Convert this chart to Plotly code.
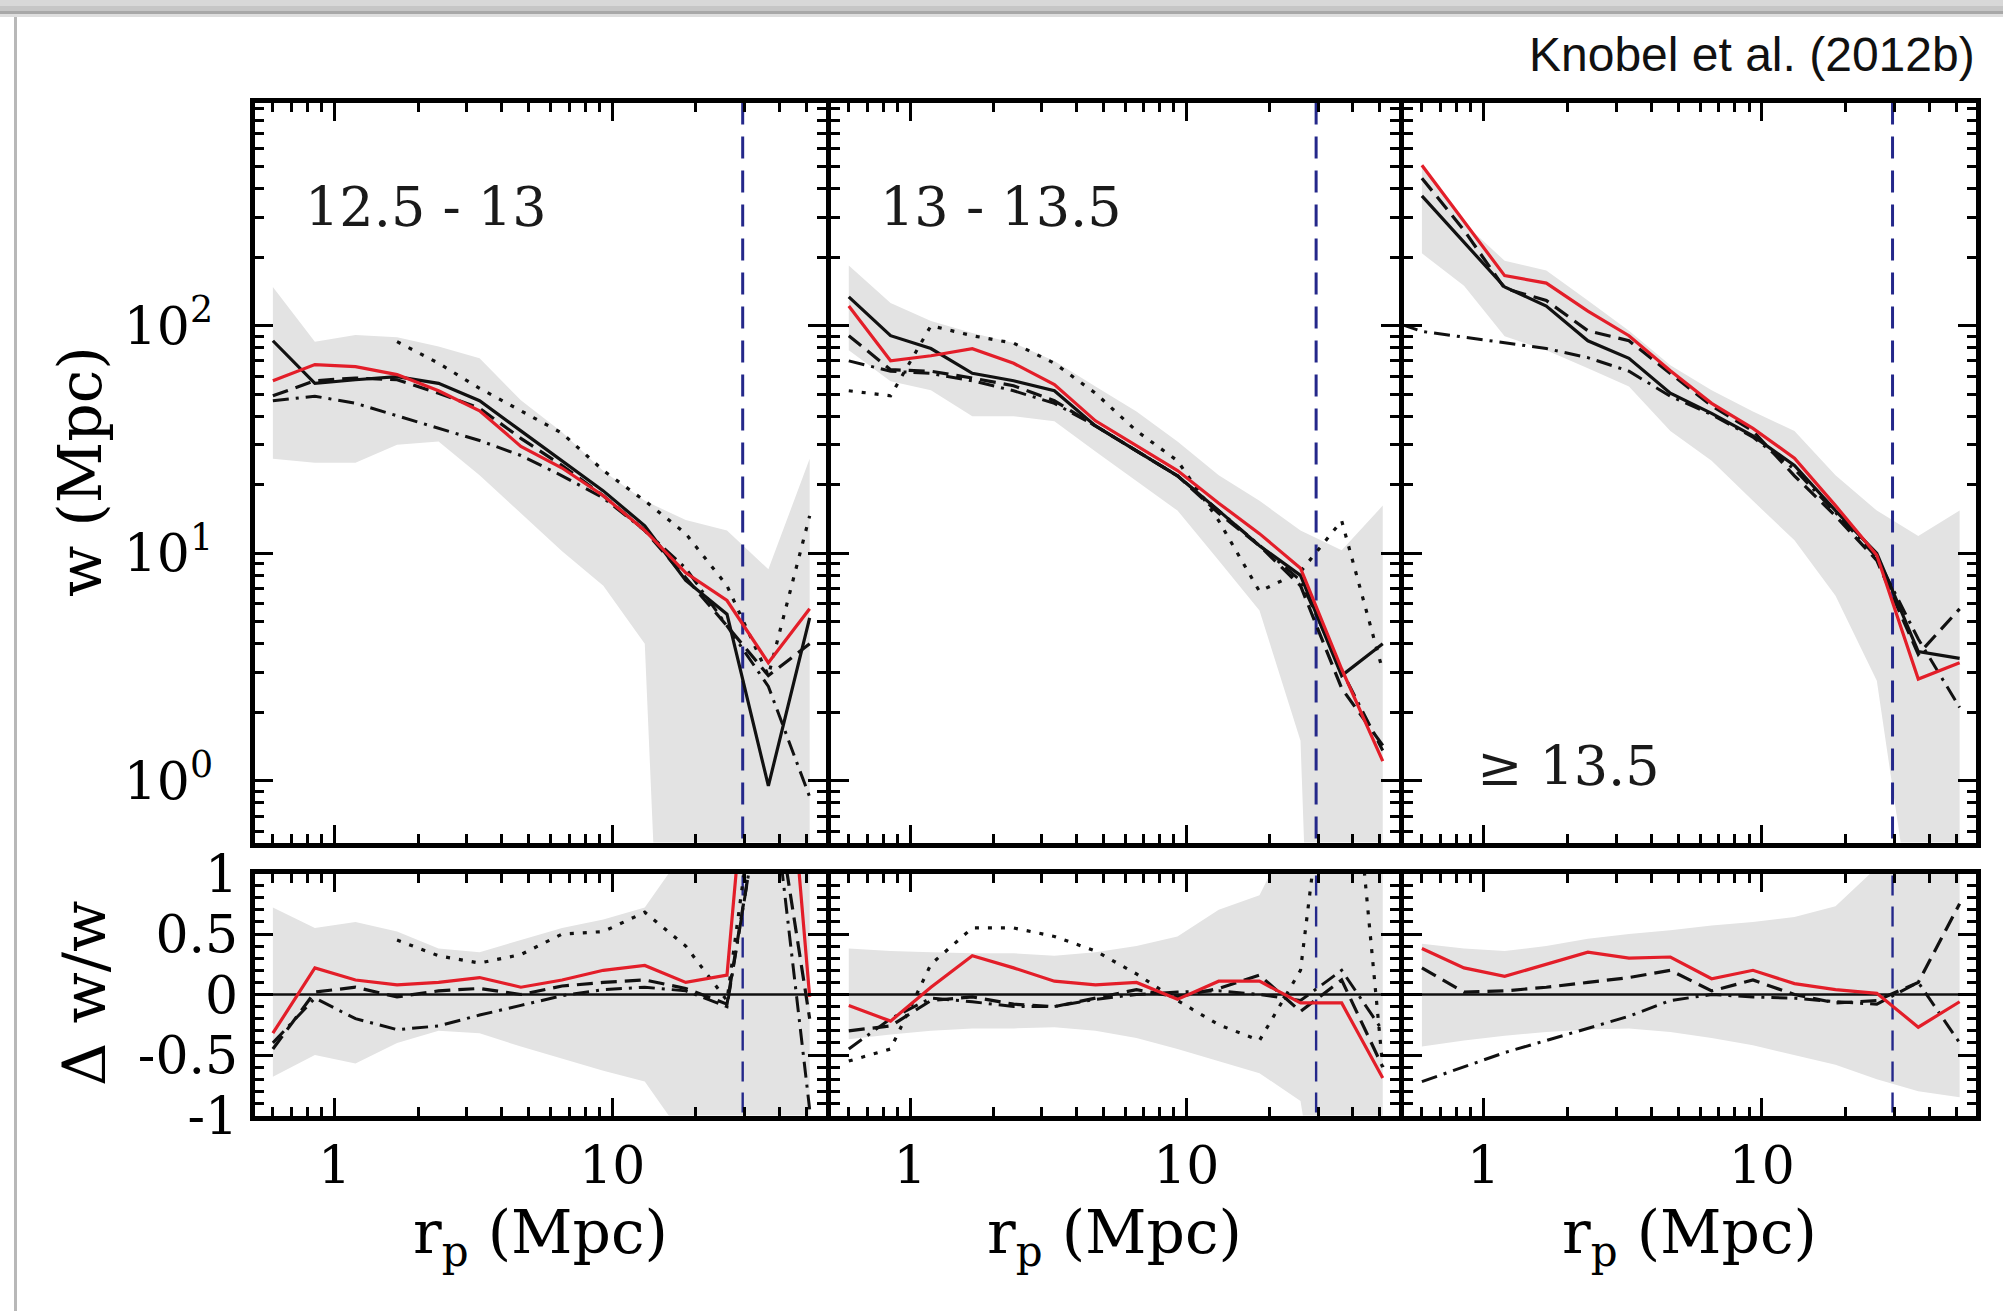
import plotly.graph_objects as go

# ---------------------------------------------------------------
# Projected correlation function w(rp) for three group-mass bins
# (log M_halo ranges), with the relative residuals underneath.
# ---------------------------------------------------------------

# projected separation bins (Mpc)
rp = [0.60, 0.85, 1.19, 1.68, 2.37, 3.33, 4.69, 6.60, 9.29, 13.1, 18.4, 25.9, 36.5, 51.4]
rp_dashdot_hi = [0.51, 0.60, 0.85, 1.19, 1.68, 2.37, 3.33, 4.69, 6.60, 9.29, 13.1, 18.4, 25.9, 36.5, 51.4]
rp_limit = 29.5

mass_bins = ["12.5 - 13", "13 - 13.5", "≥ 13.5"]

# ---- upper panels: w(rp) in Mpc ----
w1_red     = [57.3, 67.5, 66.1, 61.0, 51.8, 42.3, 29.5, 23.7, 17.9, 12.6, 8.2, 6.2, 3.3, 5.7]
w1_solid   = [85.9, 55.8, 57.9, 59.7, 55.8, 46.8, 34.5, 25.5, 18.8, 13.2, 7.6, 5.4, 0.95, 5.2]
w1_dashed  = [49.2, 57.3, 58.9, 57.9, 50.5, 43.4, 32.0, 24.3, 17.9, 12.6, 7.8, 4.8, 2.9, 4.0]
w1_dashdot = [46.8, 49.0, 45.6, 40.2, 35.4, 31.3, 26.9, 21.9, 17.5, 12.6, 8.6, 4.8, 2.6, 0.85]
w1_dotted  = [None, None, None, 85.1, 68.4, 53.1, 42.3, 33.7, 23.1, 17.0, 12.2, 7.2, 2.9, 14.6]
w1_band_hi = [148, 85, 91, 89, 81, 72, 47, 34, 23, 17, 14, 12.6, 8.5, 26]
w1_band_lo = [26, 25, 25, 30, 31, 22, 15, 10.2, 7.2, 4.0, 0.00025, 0.00025, 0.00025, 0.00025]

w2_red     = [122, 70.1, 73.8, 79.3, 68.4, 55.1, 38.2, 29.7, 23.1, 16.6, 12.2, 8.6, 3.1, 1.22]
w2_solid   = [134, 90.4, 79.4, 61.8, 57.3, 51.8, 36.3, 28.2, 21.9, 15.4, 10.8, 8.0, 2.9, 4.0]
w2_dashed  = [90.4, 64.1, 63.1, 58.9, 54.5, 46.8, 36.3, 28.2, 21.9, 15.0, 10.8, 7.2, 2.55, 1.43]
w2_dashdot = [70.1, 63.1, 61.7, 57.3, 51.8, 45.6, 36.3, 28.2, 21.9, 15.4, 10.8, 7.6, 3.05, 1.36]
w2_dotted  = [51.8, 49.2, 100, 90.4, 83.8, 68.4, 50.5, 34.5, 25.5, 13.9, 6.8, 8.3, 13.9, 3.05]
w2_band_hi = [184, 126, 105, 93, 84, 70, 54, 42, 31, 22, 17, 12.6, 10.3, 16.2]
w2_band_lo = [78, 57, 52, 40, 40, 38, 28, 20.8, 15.4, 9.3, 5.6, 1.5, 0.00001, 0.00001]

w3_red     = [507, 288, 166, 154, 116, 90.4, 63.4, 45.6, 35.4, 26.2, 16.2, 9.8, 2.8, 3.3]
w3_solid   = [372, 234, 148, 122, 85.9, 71.9, 50.5, 41.2, 32.8, 24.3, 15.4, 10.0, 3.7, 3.45]
w3_dashed  = [445, 263, 146, 129, 95.1, 85.9, 61.7, 44.5, 34.5, 21.9, 14.6, 9.3, 3.6, 5.7]
w3_dashdot = [101, 94.4, 89.1, 84.1, 79.4, 72.4, 63.1, 49.0, 40.7, 32.4, 23.4, 15.1, 9.6, 4.2, 2.1]
w3_band_hi = [501, 282, 193, 175, 129, 95, 67, 52, 42, 34.5, 22, 15.4, 11.9, 15.4]
w3_band_lo = [208, 150, 90, 78, 65, 54, 34.5, 25.5, 17.0, 11.4, 6.5, 2.75, 0.16, 0.16]

# ---- lower panels: relative residuals (w - w_ref) / w_ref ----
d1_red     = [-0.32, 0.22, 0.12, 0.08, 0.10, 0.14, 0.06, 0.12, 0.20, 0.24, 0.10, 0.16, 4.0, -0.02]
d1_dashed  = [-0.45, 0.02, 0.06, -0.02, 0.03, 0.05, 0.00, 0.07, 0.10, 0.12, 0.05, -0.08, 2.0, -0.2]
d1_dashdot = [-0.40, -0.03, -0.20, -0.29, -0.26, -0.17, -0.09, -0.01, 0.04, 0.06, 0.03, -0.10, 2.0, -0.95]
d1_dotted  = [None, None, None, 0.45, 0.32, 0.26, 0.33, 0.50, 0.52, 0.68, 0.40, -0.05, 2.5, 2.0]
d1_band_hi = [0.72, 0.55, 0.60, 0.52, 0.38, 0.35, 0.45, 0.55, 0.62, 0.72, 1.2, 3.0, 3.0, 3.0]
d1_band_lo = [-0.68, -0.50, -0.57, -0.40, -0.30, -0.32, -0.43, -0.53, -0.63, -0.72, -1.2, -3.0, -3.0, -3.0]

d2_red     = [-0.09, -0.22, 0.06, 0.32, 0.22, 0.11, 0.08, 0.10, -0.04, 0.11, 0.11, -0.07, -0.07, -0.69]
d2_dashed  = [-0.30, -0.26, -0.05, -0.02, -0.08, -0.10, -0.03, 0.04, -0.02, 0.05, 0.16, -0.14, 0.12, -0.60]
d2_dashdot = [-0.45, -0.20, -0.03, -0.06, -0.10, -0.10, -0.04, 0.00, 0.02, 0.03, 0.00, -0.05, 0.20, -0.30]
d2_dotted  = [-0.55, -0.45, 0.25, 0.55, 0.55, 0.48, 0.36, 0.17, -0.05, -0.25, -0.38, 0.20, 3.0, -0.60]
d2_band_hi = [0.38, 0.36, 0.35, 0.34, 0.34, 0.32, 0.35, 0.40, 0.48, 0.70, 0.82, 1.5, 3.0, 3.0]
d2_band_lo = [-0.37, -0.33, -0.30, -0.28, -0.28, -0.27, -0.30, -0.36, -0.45, -0.55, -0.65, -0.88, -3.0, -3.0]

d3_red     = [0.38, 0.22, 0.15, 0.25, 0.35, 0.30, 0.31, 0.13, 0.20, 0.09, 0.04, 0.01, -0.27, -0.06]
d3_dashed  = [0.22, 0.02, 0.03, 0.06, 0.10, 0.14, 0.20, 0.03, 0.12, 0.00, -0.07, -0.05, 0.10, 0.75]
d3_dashdot = [-0.72, -0.60, -0.48, -0.38, -0.28, -0.18, -0.05, 0.00, -0.02, -0.03, -0.06, -0.08, 0.10, -0.40]
d3_band_hi = [0.42, 0.38, 0.36, 0.40, 0.46, 0.50, 0.53, 0.57, 0.60, 0.64, 0.73, 1.05, 2.0, 2.0]
d3_band_lo = [-0.43, -0.38, -0.34, -0.31, -0.29, -0.28, -0.31, -0.36, -0.42, -0.50, -0.58, -0.70, -0.80, -0.85]

# tick positions
x_major = [1, 10]
x_major_text = ["1", "10"]
x_minor = [0.6, 0.7, 0.8, 0.9, 2, 3, 4, 5, 6, 7, 8, 9, 20, 30, 40, 50]
w_major = [1, 10, 100]
w_major_text = ["10<sup>0</sup>", "10<sup>1</sup>", "10<sup>2</sup>"]
w_minor = [0.6, 0.7, 0.8, 0.9] + [k for k in range(2, 10)] + [10 * k for k in range(2, 10)] + [100 * k for k in range(2, 10)]
d_major = [-1, -0.5, 0, 0.5, 1]
d_major_text = ["-1", "-0.5", "0", "0.5", "1"]
d_minor = [round(-0.9 + 0.1 * i, 1) for i in range(19) if round(-0.9 + 0.1 * i, 1) not in (-0.5, 0.0, 0.5)]

# ---------------------------------------------------------------
W, H = 2003, 1311
SERIF = "DejaVu Serif"
RED = "#e31e29"
INK = "#111111"
BLUE = "#24288a"
BAND = "#e3e3e3"
LW = 5

panel_px = [(254.5, 825.5), (830.5, 1398.5), (1403.5, 1975.5)]
top_px = (102.5, 842.5)
bot_px = (873.5, 1115.5)

X_RANGE = [-0.288, 1.768]
W_RANGE = [-0.271, 2.981]
D_RANGE = [-1.0, 1.0]


def xdom(p):
    return [p[0] / W, p[1] / W]


def ydom(p):
    return [1 - p[1] / H, 1 - p[0] / H]


upper = [
    dict(red=w1_red, solid=w1_solid, dashed=w1_dashed, dashdot=w1_dashdot, dotted=w1_dotted,
         hi=w1_band_hi, lo=w1_band_lo, dd_x=rp),
    dict(red=w2_red, solid=w2_solid, dashed=w2_dashed, dashdot=w2_dashdot, dotted=w2_dotted,
         hi=w2_band_hi, lo=w2_band_lo, dd_x=rp),
    dict(red=w3_red, solid=w3_solid, dashed=w3_dashed, dashdot=w3_dashdot, dotted=None,
         hi=w3_band_hi, lo=w3_band_lo, dd_x=rp_dashdot_hi),
]
lower = [
    dict(red=d1_red, dashed=d1_dashed, dashdot=d1_dashdot, dotted=d1_dotted, hi=d1_band_hi, lo=d1_band_lo),
    dict(red=d2_red, dashed=d2_dashed, dashdot=d2_dashdot, dotted=d2_dotted, hi=d2_band_hi, lo=d2_band_lo),
    dict(red=d3_red, dashed=d3_dashed, dashdot=d3_dashdot, dotted=None, hi=d3_band_hi, lo=d3_band_lo),
]

STYLE = {
    "solid": dict(color=INK, width=3.2),
    "dashed": dict(color=INK, width=3.2, dash="16px,8px"),
    "dashdot": dict(color=INK, width=3.0, dash="16px,7px,3px,7px"),
    "dotted": dict(color=INK, width=3.2, dash="4px,9px"),
    "red": dict(color=RED, width=3.2),
}

fig = go.Figure()


def add_line(x, y, xa, ya, line):
    fig.add_trace(go.Scatter(x=x, y=y, xaxis=xa, yaxis=ya, mode="lines",
                             line=line, hoverinfo="skip", showlegend=False))


def add_band(lo, hi, xa, ya):
    fig.add_trace(go.Scatter(x=rp, y=lo, xaxis=xa, yaxis=ya, mode="lines",
                             line=dict(width=0, color=BAND), hoverinfo="skip", showlegend=False))
    fig.add_trace(go.Scatter(x=rp, y=hi, xaxis=xa, yaxis=ya, mode="lines", fill="tonexty",
                             fillcolor=BAND, line=dict(width=0, color=BAND),
                             hoverinfo="skip", showlegend=False))


for i in range(3):
    # upper panel: w(rp)
    xa, ya = f"x{i + 1}", f"y{i + 1}"
    u = upper[i]
    add_band(u["lo"], u["hi"], xa, ya)
    add_line([rp_limit, rp_limit], [0.1, 5000], xa, ya, dict(color=BLUE, width=3.0, dash="22px,12px"))
    if u["dotted"] is not None:
        add_line(rp, u["dotted"], xa, ya, STYLE["dotted"])
    add_line(u["dd_x"], u["dashdot"], xa, ya, STYLE["dashdot"])
    add_line(rp, u["dashed"], xa, ya, STYLE["dashed"])
    add_line(rp, u["solid"], xa, ya, STYLE["solid"])
    add_line(rp, u["red"], xa, ya, STYLE["red"])

    # lower panel: residuals
    xa, ya = f"x{i + 4}", f"y{i + 4}"
    d = lower[i]
    add_band(d["lo"], d["hi"], xa, ya)
    add_line([rp_limit, rp_limit], [-2, 2], xa, ya, dict(color=BLUE, width=2.4, dash="20px,11px"))
    add_line([0.3, 100], [0, 0], xa, ya, dict(color=INK, width=2.4))
    if d["dotted"] is not None:
        add_line(rp, d["dotted"], xa, ya, STYLE["dotted"])
    add_line(rp, d["dashdot"], xa, ya, STYLE["dashdot"])
    add_line(rp, d["dashed"], xa, ya, STYLE["dashed"])
    add_line(rp, d["red"], xa, ya, STYLE["red"])

frame = dict(showline=True, linecolor="black", linewidth=LW, mirror="allticks",
             ticks="inside", tickcolor="black", tickwidth=3, ticklen=18,
             showgrid=False, zeroline=False, tickmode="array", automargin=False,
             tickfont=dict(family=SERIF, size=52, color="black"))


def minor(vals):
    return dict(ticks="inside", ticklen=9, tickwidth=2.5, tickcolor="black",
                tickmode="array", tickvals=vals, showgrid=False)


layout_axes = {}
for i in range(3):
    # upper row
    layout_axes[f"xaxis{i + 1}"] = dict(frame, type="log", domain=xdom(panel_px[i]), anchor=f"y{i + 1}",
                                        range=X_RANGE, tickvals=x_major, ticktext=x_major_text,
                                        showticklabels=False, minor=minor(x_minor))
    layout_axes[f"yaxis{i + 1}"] = dict(frame, type="log", domain=ydom(top_px), anchor=f"x{i + 1}",
                                        range=W_RANGE, tickvals=w_major, ticktext=w_major_text,
                                        showticklabels=(i == 0), ticklabelstandoff=26,
                                        minor=minor(w_minor))
    # lower row
    layout_axes[f"xaxis{i + 4}"] = dict(frame, type="log", domain=xdom(panel_px[i]), anchor=f"y{i + 4}",
                                        range=X_RANGE, tickvals=x_major, ticktext=x_major_text,
                                        showticklabels=True, ticklabelstandoff=0,
                                        minor=minor(x_minor))
    layout_axes[f"yaxis{i + 4}"] = dict(frame, domain=ydom(bot_px), anchor=f"x{i + 4}",
                                        range=D_RANGE, tickvals=d_major, ticktext=d_major_text,
                                        showticklabels=(i == 0), ticklabelstandoff=1,
                                        minor=minor(d_minor))
layout_axes["xaxis"] = layout_axes.pop("xaxis1")
layout_axes["yaxis"] = layout_axes.pop("yaxis1")

annotations = []
# mass-bin labels
label_pos = [(303, 207), (878, 207), (1475, 766)]
for name, (px, py) in zip(mass_bins, label_pos):
    annotations.append(dict(text=name, x=px / W, y=1 - py / H, xref="paper", yref="paper",
                            xanchor="left", yanchor="middle", showarrow=False,
                            font=dict(family=SERIF, size=54, color="#1a1a1a")))
# axis titles
for p in panel_px:
    annotations.append(dict(text="r<sub>p</sub> (Mpc)", x=(p[0] + p[1]) / 2 / W, y=1 - 1236 / H,
                            xref="paper", yref="paper", xanchor="center", yanchor="middle",
                            showarrow=False, font=dict(family=SERIF, size=60, color="black")))
annotations.append(dict(text="w (Mpc)", x=80 / W, y=1 - 472 / H, xref="paper", yref="paper",
                        textangle=-90, xanchor="center", yanchor="middle", showarrow=False,
                        font=dict(family=SERIF, size=60, color="black")))
annotations.append(dict(text="Δ w/w", x=84 / W, y=1 - 994 / H, xref="paper", yref="paper",
                        textangle=-90, xanchor="center", yanchor="middle", showarrow=False,
                        font=dict(family=SERIF, size=60, color="black")))
# citation
annotations.append(dict(text="Knobel et al. (2012b)", x=1977 / W, y=1 - 55 / H, xref="paper", yref="paper",
                        xanchor="right", yanchor="middle", showarrow=False,
                        font=dict(family="Liberation Sans", size=48, color="#111111")))

# slide frame: soft shadow along the top edge and a thin rule on the left
shapes = []
for y0, y1, col in [(0, 6, "#d8d8d8"), (6, 11, "#c6c6c6"), (11, 14, "#a8a8a8"), (14, 17, "#dedede")]:
    shapes.append(dict(type="rect", xref="paper", yref="paper", x0=0, x1=1,
                       y0=1 - y1 / H, y1=1 - y0 / H, fillcolor=col, line=dict(width=0), layer="below"))
shapes.append(dict(type="rect", xref="paper", yref="paper", x0=14 / W, x1=17 / W,
                   y0=0, y1=1 - 17 / H, fillcolor="#b8b8b8", line=dict(width=0), layer="below"))

fig.update_layout(width=W, height=H, autosize=False,
                  margin=dict(l=0, r=0, t=0, b=0, pad=0),
                  paper_bgcolor="white", plot_bgcolor="white",
                  showlegend=False, annotations=annotations, shapes=shapes,
                  **layout_axes)

fig.write_html("out.html")
